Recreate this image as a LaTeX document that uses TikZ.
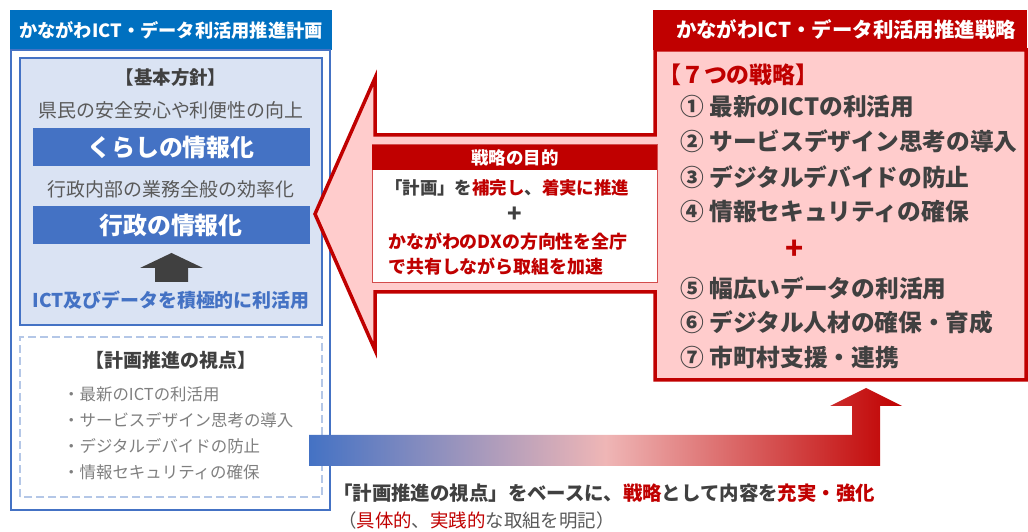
\documentclass[tikz,border=0pt]{standalone}
\usepackage{fontspec}
\setmainfont{Noto Sans CJK JP}
\definecolor{kblue}{HTML}{0070C0}
\definecolor{mblue}{HTML}{4472C4}
\definecolor{pblue}{HTML}{DAE3F3}
\definecolor{dblue}{HTML}{B4C7E7}
\definecolor{kred}{HTML}{C00000}
\definecolor{pred}{HTML}{FFCCCC}
\definecolor{midpink}{HTML}{EFB6B6}
\definecolor{dgray}{HTML}{404040}
\definecolor{mgray}{HTML}{595959}
\definecolor{lgray}{HTML}{7F7F7F}
\newcommand{\jpsize}[1]{\fontsize{#1}{#1}\selectfont}
\begin{document}
\begin{tikzpicture}[inner sep=0pt,
  ttl/.style={text=white,font=\bfseries\jpsize{#1}},
  bar/.style={text=white,font=\bfseries\jpsize{24}},
  plain/.style={text=mgray,font=\jpsize{#1}},
  point/.style={anchor=west,text=lgray,font=\jpsize{16.5}},
  senryaku/.style={anchor=west,text=dgray,font=\bfseries\jpsize{23.8}},
  mokuteki/.style={anchor=west,text=kred,font=\bfseries\jpsize{#1}}]
  \useasboundingbox (0bp,0bp) rectangle (1028bp,532bp);
  % left side: plan
  \fill[kblue] (10bp,482bp) rectangle (332bp,522bp);
  \node (PlanTitle) at (171bp,502bp) [ttl=18.3] {かながわICT・データ利活用推進計画};
  \draw[mblue,line width=2.5bp,fill=white] (11bp,22bp) rectangle (330bp,482bp);
  \draw[mblue,line width=2.5bp,fill=pblue] (20bp,207bp) rectangle (322bp,474bp);
  \node (Kihon) at (171bp,454bp) [text=dgray,font=\bfseries\jpsize{18.5}] {【基本方針】};
  \node (Kenmin) at (171bp,422bp) [plain=19] {県民の安全安心や利便性の向上};
  \fill[mblue] (33bp,366bp) rectangle (310bp,404bp);
  \node (Kurashi) at (171bp,385bp) [bar] {くらしの情報化};
  \node (Naibu) at (171bp,343bp) [plain=19] {行政内部の業務全般の効率化};
  \fill[mblue] (33bp,288bp) rectangle (310bp,326bp);
  \node (Gyosei) at (171bp,307bp) [bar] {行政の情報化};
  \fill[dgray] (155bp,250bp) -- (155bp,264bp) -- (140bp,264bp) -- (171.5bp,279bp)
    -- (203bp,264bp) -- (188bp,264bp) -- (188bp,250bp) -- cycle;
  \node (Katsuyo) at (171bp,232bp) [text=mblue,font=\bfseries\jpsize{19}] {ICT及びデータを積極的に利活用};
  \draw[dblue,line width=2.5bp,dash pattern=on 8bp off 4bp] (20bp,35bp) rectangle (322bp,195bp);
  \node (Shiten) at (171bp,172bp) [text=dgray,font=\bfseries\jpsize{19}] {【計画推進の視点】};
  \node (P1) at (63bp,138bp) [point] {・最新のICTの利活用};
  \node (P2) at (63bp,112bp) [point] {・サービスデザイン思考の導入};
  \node (P3) at (63bp,86bp) [point] {・デジタルデバイドの防止};
  \node (P4) at (63bp,60bp) [point] {・情報セキュリティの確保};
  % right side: strategy with callout arrow
  \draw[kred,line width=3.5bp,fill=pred,line join=miter] (1026bp,482bp) -- (1026bp,152bp)
    -- (655bp,152bp) -- (655bp,240bp) -- (375bp,240bp) -- (375bp,182bp) -- (315bp,318bp)
    -- (375bp,454bp) -- (375bp,397bp) -- (655bp,397bp) -- (655bp,482bp) -- cycle;
  \fill[kred] (653bp,482bp) rectangle (1027bp,522bp);
  \node (StratTitle) at (846bp,502bp) [ttl=20.5] {かながわICT・データ利活用推進戦略};
  \draw[kred!70,line width=1bp,fill=white] (372bp,249bp) rectangle (657bp,387bp);
  \fill[kred] (372bp,362bp) rectangle (657bp,387bp);
  \node (Mokuteki) at (515bp,374.5bp) [ttl=17.5] {戦略の目的};
  \node (M1) at (385bp,344bp) [mokuteki=17.5] {\textcolor{dgray}{「計画」を}補完し\textcolor{dgray}{、}着実に推進};
  \node (MPlus) at (515bp,317bp) [text=dgray,font=\bfseries\jpsize{24}] {+};
  \node (M2) at (388bp,290bp) [mokuteki=18] {かながわのDXの方向性を全庁};
  \node (M3) at (388bp,265bp) [mokuteki=18] {で共有しながら取組を加速};
  \node (Nana) at (658bp,457bp) [anchor=west,text=kred,font=\bfseries\jpsize{23}] {【７つの戦略】};
  \node (S1) at (680bp,425bp) [senryaku] {① 最新のICTの利活用};
  \node (S2) at (680bp,391bp) [senryaku] {② サービスデザイン思考の導入};
  \node (S3) at (680bp,355bp) [senryaku] {③ デジタルデバイドの防止};
  \node (S4) at (680bp,320bp) [senryaku] {④ 情報セキュリティの確保};
  \node (SPlus) at (795bp,282bp) [text=kred,font=\bfseries\jpsize{30}] {+};
  \node (S5) at (680bp,244bp) [senryaku] {⑤ 幅広いデータの利活用};
  \node (S6) at (680bp,210bp) [senryaku] {⑥ デジタル人材の確保・育成};
  \node (S7) at (680bp,175bp) [senryaku] {⑦ 市町村支援・連携};
  % bottom: gradient arrow
  \shade[left color=mblue,right color=kred,middle color=midpink] (309bp,97bp) -- (852bp,97bp)
    -- (852bp,126bp) -- (830bp,126bp) -- (866bp,144bp) -- (902bp,126bp) -- (880bp,126bp)
    -- (880bp,66bp) -- (309bp,66bp) -- cycle;
  \node (Base) at (333bp,39bp) [anchor=west,text=dgray,font=\bfseries\jpsize{19.5}]
    {「計画推進の視点」をベースに、\textcolor{kred}{戦略}として内容を\textcolor{kred}{充実・強化}};
  \node (Meiki) at (338bp,12bp) [anchor=west,plain=18.5]
    {（\textcolor{kred}{具体的}、\textcolor{kred}{実践的}な取組を明記）};
\end{tikzpicture}
\end{document}
